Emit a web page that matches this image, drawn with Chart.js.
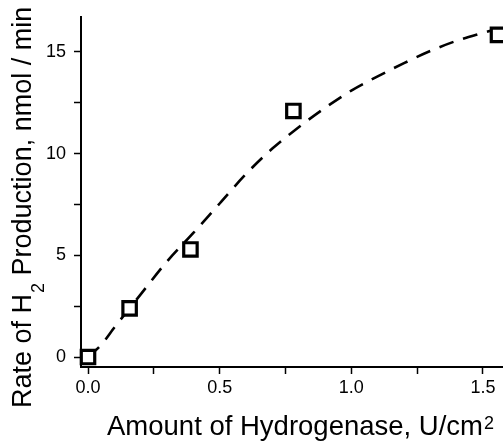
<!DOCTYPE html>
<html>
<head>
<meta charset="utf-8">
<script src="https://cdn.jsdelivr.net/npm/chart.js@4/dist/chart.umd.min.js"></script>
<style>
  html, body { margin: 0; padding: 0; background: #fff; overflow: hidden; }
  canvas { display: block; }
</style>
</head>
<body>
<canvas id="c" width="503" height="441" style="width:503px;height:441px"></canvas>
<script>
// Measured data (squares)
const pointX = [0, 0.158, 0.389, 0.780, 1.557];
const pointY = [0, 2.39, 5.29, 12.10, 15.84];

// Fitted curve
const fitX = [0, 0.05, 0.1, 0.2, 0.3, 0.4, 0.5, 0.6, 0.7, 0.8, 0.9, 1.0, 1.1, 1.2, 1.3, 1.4, 1.5, 1.557];
const fitY = [0, 0.6, 1.45, 3.08, 4.7, 6.1, 7.55, 9.0, 10.25, 11.3, 12.25, 13.1, 13.8, 14.45, 15.05, 15.55, 15.94, 16.15];

// Tick values and labels
const xTickValues = [0, 0.25, 0.5, 0.75, 1.0, 1.25, 1.5];
const xTickLabels = ["0.0", "", "0.5", "", "1.0", "", "1.5"];
const yTickValues = [0, 2.5, 5, 7.5, 10, 12.5, 15];
const yTickLabels = ["0", "", "5", "", "10", "", "15"];

const xTitle = "Amount of Hydrogenase, U/cm";
const xTitleSup = "2";
const yTitleA = "Rate of H";
const yTitleSub = "2";
const yTitleB = " Production, nmol / min";

const FONT = "'Liberation Sans', Arial, sans-serif";

const titlePlugin = {
  id: 'titles',
  afterDraw(chart) {
    const ctx = chart.ctx;
    ctx.save();
    ctx.fillStyle = '#000';
    ctx.textAlign = 'left';
    ctx.textBaseline = 'alphabetic';
    // X title
    ctx.font = '27.5px ' + FONT;
    const xx = 107, xy = 435;
    ctx.fillText(xTitle, xx, xy);
    const w = ctx.measureText(xTitle).width;
    ctx.font = '18px ' + FONT;
    ctx.fillText(xTitleSup, xx + w + 1, xy - 6);
    // Y title
    ctx.translate(31, 408);
    ctx.rotate(-Math.PI / 2);
    ctx.font = '27px ' + FONT;
    ctx.fillText(yTitleA, 0, 0);
    const wa = ctx.measureText(yTitleA).width;
    ctx.font = '18px ' + FONT;
    ctx.fillText(yTitleSub, wa + 1, 13);
    const ws = ctx.measureText(yTitleSub).width;
    ctx.font = '27px ' + FONT;
    ctx.fillText(yTitleB, wa + ws + 1, 0);
    ctx.restore();
  }
};

new Chart(document.getElementById('c'), {
  type: 'scatter',
  data: {
    datasets: [
      {
        label: 'fit',
        data: fitX.map((x, i) => ({ x: x, y: fitY[i] })),
        showLine: true,
        borderColor: '#000',
        borderWidth: 2.6,
        borderDash: [15, 10],
        pointRadius: 0,
        cubicInterpolationMode: 'monotone',
        fill: false,
        clip: false,
        order: 2
      },
      {
        label: 'data',
        data: pointX.map((x, i) => ({ x: x, y: pointY[i] })),
        pointStyle: 'rect',
        pointRadius: 9.5,
        pointHoverRadius: 9.5,
        pointBorderWidth: 3.2,
        pointBorderColor: '#000',
        pointBackgroundColor: '#fff',
        showLine: false,
        clip: false,
        order: 1
      }
    ]
  },
  options: {
    responsive: false,
    maintainAspectRatio: false,
    devicePixelRatio: 1,
    animation: false,
    events: [],
    layout: { autoPadding: false, padding: { top: 17, right: 0, left: 0, bottom: 0 } },
    plugins: { legend: { display: false }, tooltip: { enabled: false }, title: { display: false } },
    scales: {
      x: {
        type: 'linear',
        min: -0.0266,
        max: 1.576,
        afterFit(scale) {
          scale.height = 74;
          scale.paddingLeft = 0; scale.paddingRight = 0;
        },
        afterBuildTicks(scale) { scale.ticks = xTickValues.map(v => ({ value: v })); },
        ticks: {
          autoSkip: false,
          maxRotation: 0,
          padding: 3,
          color: '#000',
          font: { family: FONT, size: 18 },
          callback(value, index) { return xTickLabels[index]; }
        },
        grid: { drawOnChartArea: false, drawTicks: true, tickLength: 7, tickColor: '#000', tickWidth: 1.5 },
        border: { display: true, color: '#000', width: 2 }
      },
      y: {
        type: 'linear',
        min: -0.49,
        max: 16.72,
        afterFit(scale) {
          scale.width = 81;
          scale.paddingTop = 0; scale.paddingBottom = 0;
        },
        afterBuildTicks(scale) { scale.ticks = yTickValues.map(v => ({ value: v })); },
        ticks: {
          autoSkip: false,
          padding: 8,
          color: '#000',
          font: { family: FONT, size: 18 },
          callback(value, index) { return yTickLabels[index]; }
        },
        grid: { drawOnChartArea: false, drawTicks: true, tickLength: 7, tickColor: '#000', tickWidth: 1.5 },
        border: { display: true, color: '#000', width: 2 }
      }
    }
  },
  plugins: [titlePlugin]
});
</script>
</body>
</html>
